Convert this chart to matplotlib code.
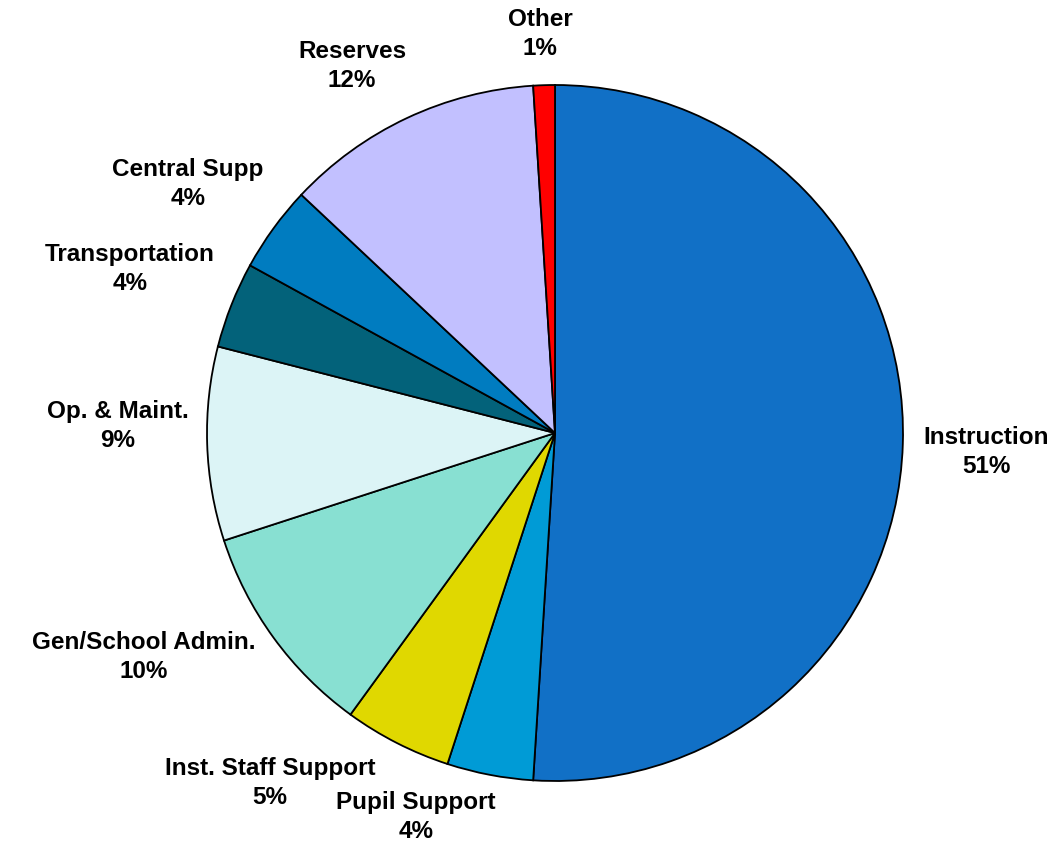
import matplotlib.pyplot as plt

# Budget shares by category
categories = ['Instruction', 'Pupil Support', 'Inst. Staff Support', 'Gen/School Admin.',
              'Op. & Maint.', 'Transportation', 'Central Supp', 'Reserves', 'Other']
shares = [51, 4, 5, 10, 9, 4, 4, 12, 1]
colors = ['#1170C6', '#009BD6', '#E0D800', '#88E0D2', '#DCF4F6',
          '#03627A', '#007CC0', '#C2C0FF', '#FF0000']

# label centres in pixels (x from left, y from top)
label_px = [(986, 452), (416, 817), (270, 783), (144, 657), (118, 426),
            (130, 269), (188, 184), (352, 66), (540, 34)]

W, H = 1055, 847
fig = plt.figure(figsize=(W / 100, H / 100), dpi=100)
fig.patch.set_facecolor('white')

# pie centre (555, 433), radius 348 px
cx, cy, r = 555, 433, 348
ax = fig.add_axes([(cx - r) / W, (H - cy - r) / H, 2 * r / W, 2 * r / H])
ax.pie(shares, colors=colors, startangle=90, counterclock=False, radius=1,
       wedgeprops=dict(edgecolor='black', linewidth=1.3))
ax.set_xlim(-1, 1)
ax.set_ylim(-1, 1)
ax.set_aspect('equal')
ax.axis('off')

for name, val, (px, py) in zip(categories, shares, label_px):
    fig.text(px / W, 1 - py / H, F"{name}\n{val}%", ha='center', va='center',
             fontsize=17.5, fontweight='bold', family='Liberation Sans',
             linespacing=1.3, color='black')

fig.savefig('out.png', dpi=100)
